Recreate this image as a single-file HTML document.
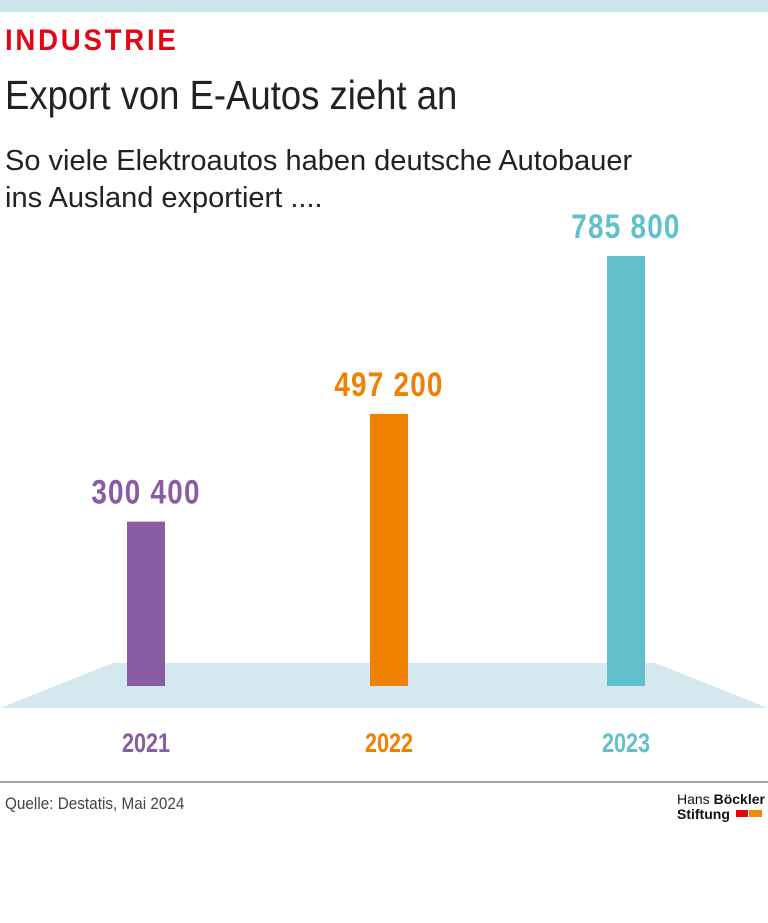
<!DOCTYPE html>
<html><head><meta charset="utf-8"><style>
body{margin:0;width:768px;height:923px;background:#fff;position:relative;overflow:hidden;font-family:"Liberation Sans",sans-serif}
.a{position:absolute;white-space:nowrap}
</style></head><body>
<div class="a" style="left:0;top:0;width:768px;height:12px;background:#cde5ec"></div>
<div class="a" style="left:5px;top:24px;font-size:30px;font-weight:bold;color:#e30613;transform:scaleX(0.92);transform-origin:left;letter-spacing:3px">INDUSTRIE</div>
<div class="a" style="left:5px;top:72px;font-size:41px;color:#222;transform:scaleX(0.89);transform-origin:left">Export von E-Autos zieht an</div>
<div class="a" style="left:5px;top:143px;font-size:29px;line-height:37px;color:#222;transform:scaleX(1.0);transform-origin:left">So viele Elektroautos haben deutsche Autobauer<br>ins Ausland exportiert ....</div>
<svg class="a" style="left:0;top:0" width="768" height="923">
<polygon points="113,663 655,663 768,708 0,708" fill="#d3e9ef"/>
<g id="g"></g>
<line x1="0" y1="782" x2="768" y2="782" stroke="#444" stroke-width="1"/>
</svg>
<div class="a" style="left:5px;top:794px;font-size:17px;color:#444;transform:scaleX(0.9);transform-origin:left">Quelle: Destatis, Mai 2024</div>
<div class="a" style="left:677px;top:792px;font-size:14px;line-height:15px;color:#111">Hans <b>Böckler</b><br><b>Stiftung</b></div>
<div class="a" style="left:736px;top:810px;width:12px;height:7px;background:#e30613"></div>
<div class="a" style="left:749px;top:810px;width:13px;height:7px;background:#f08a00"></div>
<script>
const years=["2021","2022","2023"];
const values=[300400,497200,785800];
const labels=["300 400","497 200","785 800"];
const colors=["#8a5ca4","#f08000","#62bfcc"];
const g=document.getElementById('g');const ns='http://www.w3.org/2000/svg';
const base=686,scale=430/785800;
const xs=i=>146+i*240+(i===1?3:0);
const y=v=>base-v*scale;
years.forEach((yr,i)=>{
 const r=document.createElementNS(ns,'rect');
 
 
 r.setAttribute('x',xs(i)-19);r.setAttribute('width',38);r.setAttribute('y',y(values[i]));r.setAttribute('height',base-y(values[i]));r.setAttribute('fill',colors[i]);g.appendChild(r);
 const t=document.createElementNS(ns,'text');
 
 
 t.setAttribute('x',xs(i));t.setAttribute('y',y(values[i])-18);t.setAttribute('text-anchor','middle');t.setAttribute('font-size','34');t.setAttribute('font-weight','bold');t.setAttribute('fill',colors[i]);t.setAttribute('letter-spacing','1.5');t.setAttribute('transform',`translate(${xs(i)*0.18},0) scale(0.82,1)`);t.setAttribute('font-family','Liberation Sans');t.textContent=labels[i];g.appendChild(t);
 const c=document.createElementNS(ns,'text');
 
 
 c.setAttribute('x',xs(i));c.setAttribute('y',752);c.setAttribute('text-anchor','middle');c.setAttribute('font-size','27');c.setAttribute('font-weight','bold');c.setAttribute('fill',colors[i]);c.setAttribute('transform',`translate(${xs(i)*0.2},0) scale(0.8,1)`);c.setAttribute('font-family','Liberation Sans');c.textContent=yr;g.appendChild(c);
});
</script>
</body></html>
